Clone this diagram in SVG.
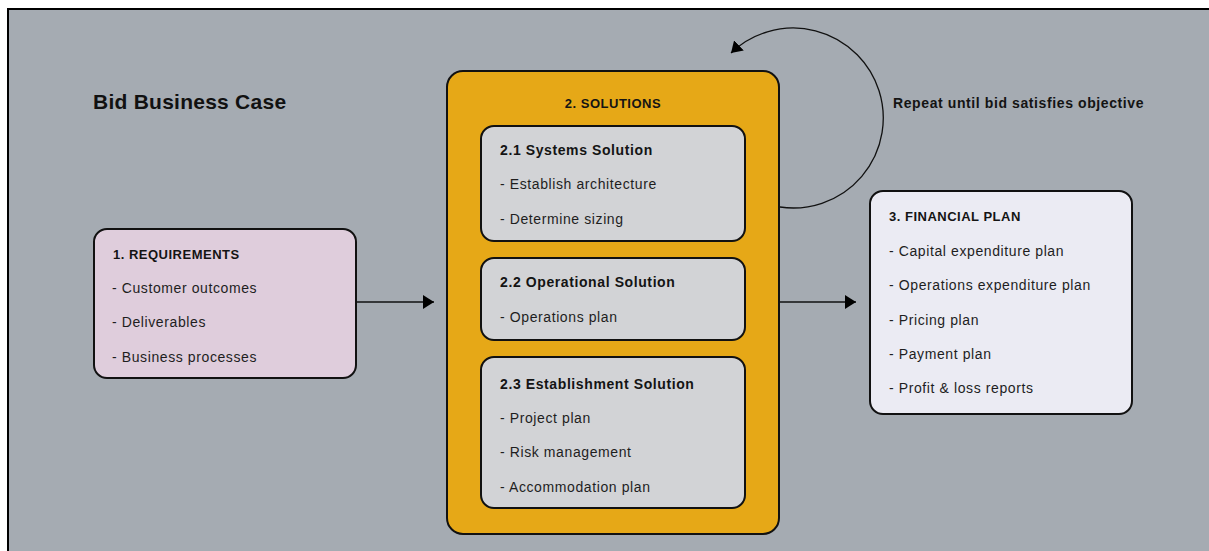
<svg xmlns="http://www.w3.org/2000/svg" width="1209" height="551" viewBox="0 0 1209 551">
  <style>
    .box { stroke: #111; stroke-width: 2; }
    .head { font-family: "Liberation Sans", Arial, sans-serif; font-weight: bold; font-size: 13px; letter-spacing: 0.5px; fill: #141414; }
    .sub { font-family: "Liberation Sans", Arial, sans-serif; font-weight: bold; font-size: 14px; letter-spacing: 0.6px; fill: #141414; }
    .item { font-family: "Liberation Sans", Arial, sans-serif; font-size: 14px; letter-spacing: 0.6px; fill: #1e1e1e; }
    .link { fill: none; stroke: #111; stroke-width: 1.3; }
  </style>
  <defs>
    <marker id="arrow" markerUnits="userSpaceOnUse" markerWidth="12" markerHeight="14" refX="11" refY="7" orient="auto">
      <path d="M0,0 L11,7 L0,14 Z" fill="#000"/>
    </marker>
  </defs>

  <rect width="1209" height="551" fill="#ffffff"/>

  <!-- background panel -->
  <g id="panel">
    <rect x="8" y="9" width="1215" height="560" fill="#a5abb2" stroke="#000" stroke-width="2"/>
    <text x="93" y="109" font-family="Liberation Sans, Arial, sans-serif" font-weight="bold" font-size="21" letter-spacing="0.25" fill="#111">Bid Business Case</text>
  </g>

  <!-- connectors -->
  <g id="connectors">
    <line class="link" x1="357" y1="302" x2="434" y2="302" marker-end="url(#arrow)"/>
    <line class="link" x1="780" y1="302" x2="856" y2="302" marker-end="url(#arrow)"/>
    <path class="link" d="M 780 207 A 90 90 0 1 0 731 53" marker-end="url(#arrow)"/>
    <text class="sub" x="893" y="108" letter-spacing="1">Repeat until bid satisfies objective</text>
  </g>

  <!-- 1. requirements -->
  <g id="requirements">
    <rect class="box" x="94" y="229" width="262" height="149" rx="13" fill="#dfcddc"/>
    <text class="head" x="113" y="259">1. REQUIREMENTS</text>
    <text class="item" x="112" y="293">- Customer outcomes</text>
    <text class="item" x="112" y="327">- Deliverables</text>
    <text class="item" x="112" y="362">- Business processes</text>
  </g>

  <!-- 2. solutions -->
  <g id="solutions">
    <rect class="box" x="447" y="71" width="332" height="463" rx="16" fill="#e6a817"/>
    <text class="head" x="613" y="108" text-anchor="middle" letter-spacing="0.6">2. SOLUTIONS</text>
  </g>

  <g id="systems-solution">
    <rect class="box" x="481" y="126" width="264" height="115" rx="13" fill="#d2d3d6"/>
    <text class="sub" x="500" y="155">2.1 Systems Solution</text>
    <text class="item" x="500" y="189">- Establish architecture</text>
    <text class="item" x="500" y="224">- Determine sizing</text>
  </g>

  <g id="operational-solution">
    <rect class="box" x="481" y="258" width="264" height="82" rx="13" fill="#d2d3d6"/>
    <text class="sub" x="500" y="287">2.2 Operational Solution</text>
    <text class="item" x="500" y="322">- Operations plan</text>
  </g>

  <g id="establishment-solution">
    <rect class="box" x="481" y="357" width="264" height="151" rx="13" fill="#d2d3d6"/>
    <text class="sub" x="500" y="389">2.3 Establishment Solution</text>
    <text class="item" x="500" y="423">- Project plan</text>
    <text class="item" x="500" y="457">- Risk management</text>
    <text class="item" x="500" y="492">- Accommodation plan</text>
  </g>

  <!-- 3. financial plan -->
  <g id="financial-plan">
    <rect class="box" x="870" y="191" width="262" height="223" rx="13" fill="#ebebf3"/>
    <text class="head" x="889" y="221" letter-spacing="1">3. FINANCIAL PLAN</text>
    <text class="item" x="889" y="256">- Capital expenditure plan</text>
    <text class="item" x="889" y="290">- Operations expenditure plan</text>
    <text class="item" x="889" y="325">- Pricing plan</text>
    <text class="item" x="889" y="359">- Payment plan</text>
    <text class="item" x="889" y="393">- Profit &amp; loss reports</text>
  </g>
</svg>
